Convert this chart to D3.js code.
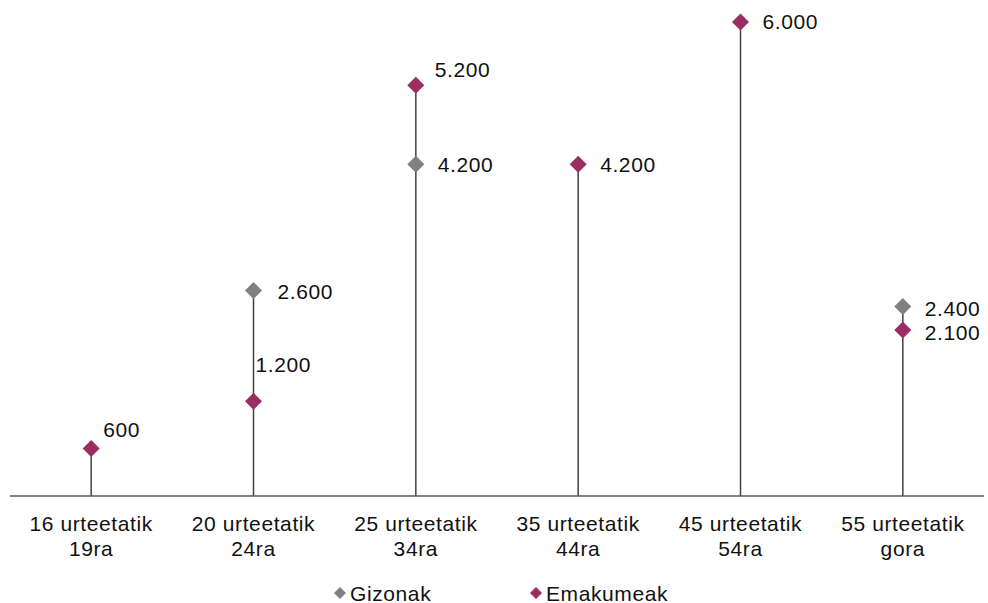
<!DOCTYPE html>
<html><head><meta charset="utf-8">
<script src="https://cdn.jsdelivr.net/npm/d3@7"></script>
<style>
body{margin:0;background:#fff;}
text{font-family:"Liberation Sans",Arial,sans-serif;letter-spacing:0.6px;}
</style></head>
<body><svg id="c" width="988" height="603"></svg>
<script>
const categories = [["16 urteetatik","19ra"],["20 urteetatik","24ra"],["25 urteetatik","34ra"],["35 urteetatik","44ra"],["45 urteetatik","54ra"],["55 urteetatik","gora"]];
const gizonak = [null, 2600, 4200, null, null, 2400];
const emakumeak = [600, 1200, 5200, 4200, 6000, 2100];
const seriesNames = ["Gizonak","Emakumeak"];
const colors = ["#808080","#9B2D62"];

const svg = d3.select("#c");
const x = d3.scaleBand().domain(d3.range(categories.length)).range([10, 984]);
const y = d3.scaleLinear().domain([0, 6000]).range([496, 22]);
const loc = d3.formatLocale({decimal:",", thousands:".", grouping:[3], currency:["",""]});
const fmt = loc.format(",d");
const cx = i => x(i) + x.bandwidth()/2;
const FS = 21;

// stems
svg.append("g").selectAll("line").data(d3.range(categories.length)).join("line")
  .attr("x1", cx).attr("x2", cx)
  .attr("y1", y(0)).attr("y2", i => y(d3.max([gizonak[i], emakumeak[i]].filter(v => v != null))))
  .attr("stroke", "#404040").attr("stroke-width", 1.5);

// baseline
svg.append("line").attr("x1", 10).attr("x2", 984).attr("y1", y(0)).attr("y2", y(0))
  .attr("stroke", "#595959").attr("stroke-width", 1.5);

// category labels
const cl = svg.append("g");
categories.forEach((c, i) => {
  const t = cl.append("text").attr("x", cx(i)).attr("y", 531).attr("text-anchor", "middle")
    .attr("font-size", FS).attr("fill", "#111");
  t.append("tspan").attr("x", cx(i)).text(c[0]);
  t.append("tspan").attr("x", cx(i)).attr("dy", 25).text(c[1]);
});

function drawDiamond(g, px, py, size, color) {
  g.append("path").attr("d", `M${px},${py-size}L${px+size},${py}L${px},${py+size}L${px-size},${py}Z`).attr("fill", color);
}

// label offsets tweak (dx, dy) per series per category
const labelOffsetsG = [[22,8],[24,8],[22,8],[22,8],[22,8],[22,10]];
const labelOffsetsE = [[12,-12],[2,-29],[19,-8],[22,8],[22,7],[22,10]];

const pts = svg.append("g");
[gizonak, emakumeak].forEach((vals, s) => {
  vals.forEach((v, i) => {
    if (v == null) return;
    drawDiamond(pts, cx(i), y(v), 8.5, colors[s]);
    const off = (s === 0 ? labelOffsetsG : labelOffsetsE)[i];
    pts.append("text").attr("x", cx(i) + off[0]).attr("y", y(v) + off[1])
      .attr("font-size", FS).attr("fill", "#111").text(fmt(v));
  });
});

// legend
const lg = svg.append("g");
const lx = [340, 536];
seriesNames.forEach((n, s) => {
  drawDiamond(lg, lx[s], 593, 6, colors[s]);
  lg.append("text").attr("x", lx[s] + 10).attr("y", 600.5).attr("font-size", FS).attr("fill", "#111").text(n);
});
</script></body></html>
